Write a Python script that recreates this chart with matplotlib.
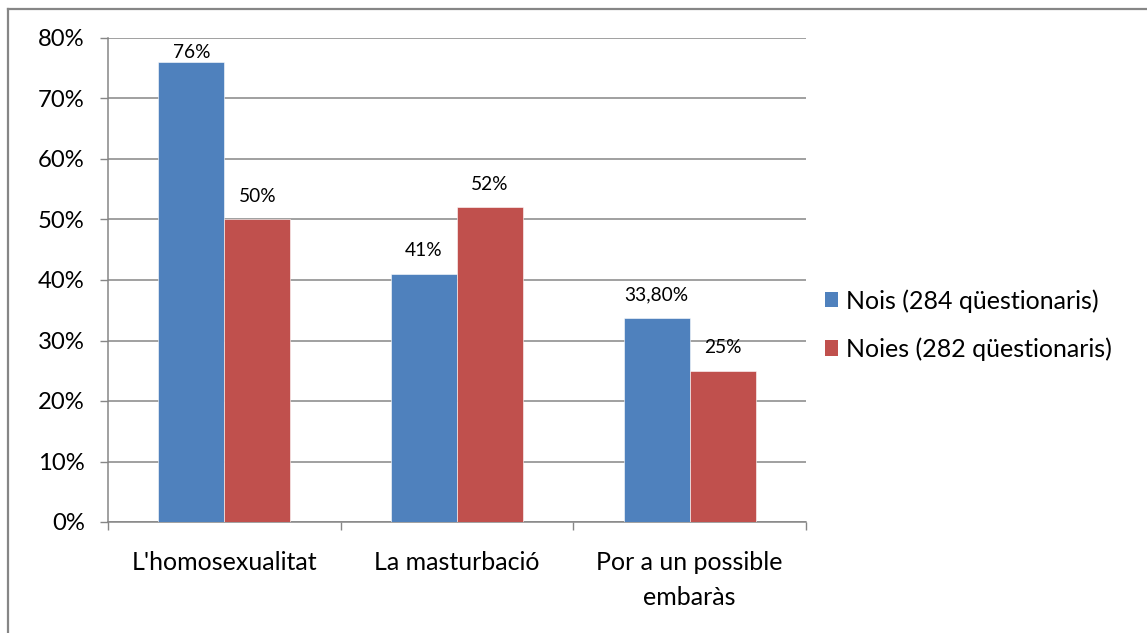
import matplotlib
matplotlib.use("Agg")
import matplotlib.pyplot as plt
import numpy as np
from matplotlib.lines import Line2D
from matplotlib.patches import Patch

categories = ["L'homosexualitat", "La masturbació", "Por a un possible\nembaràs"]
nois = [76, 41, 33.8]
noies = [50, 52, 25]
nois_labels = ["76%", "41%", "33,80%"]
noies_labels = ["50%", "52%", "25%"]
series_names = ["Nois (284 qüestionaris)", "Noies (282 qüestionaris)"]
yticks = [0, 10, 20, 30, 40, 50, 60, 70, 80]

plt.rcParams['font.family'] = ['Lato', 'DejaVu Sans']

W, H = 1147, 633
fig = plt.figure(figsize=(W/100, H/100), dpi=100)
ax = fig.add_axes([108/W, 1-522/H, (806-108)/W, (522-38)/H])

blue = "#4F81BD"
red = "#C0504D"
grid_c = "#868686"

x = np.arange(len(categories))
bw = 0.283
b1 = ax.bar(x - bw/2, nois, bw, color=blue, edgecolor="white", linewidth=0.4, zorder=3)
b2 = ax.bar(x + bw/2, noies, bw, color=red, edgecolor="white", linewidth=0.4, zorder=3)

ax.set_xlim(-0.5, len(categories) - 0.5)
ax.set_ylim(0, 80)
ax.set_yticks(yticks)
ax.set_yticklabels([f"{v}%" for v in yticks], fontsize=17.2, color="black")
ax.yaxis.grid(True, color=grid_c, linewidth=1.1, zorder=0)
ax.set_axisbelow(True)

ax.set_xticks(x)
ax.set_xticklabels(categories, fontsize=18, color="black", linespacing=1.6)
ax.tick_params(axis='x', length=0, pad=21)
ax.set_xticks(np.arange(len(categories) + 1) - 0.5, minor=True)
ax.tick_params(axis='x', which='minor', length=5.8, width=1.0, color=grid_c)
ax.tick_params(axis='y', length=5.8, width=1.0, color=grid_c, pad=11)

for s in ["top", "right"]:
    ax.spines[s].set_visible(False)
for s in ["left", "bottom"]:
    ax.spines[s].set_color(grid_c)
    ax.spines[s].set_linewidth(1.1)

px = 80 / 484.0  # data units per pixel
for rects, labels in ((b1, nois_labels), (b2, noies_labels)):
    for r, lab in zip(rects, labels):
        h = r.get_height()
        y = h + 23 * px
        if y > 80 - 12 * px:
            y = h + 10 * px
        ax.text(r.get_x() + r.get_width()/2, y, lab, ha="center", va="center",
                fontsize=13.8, color="black")

handles = [Patch(facecolor=blue), Patch(facecolor=red)]
fig.legend(handles, series_names, loc="center left",
           bbox_to_anchor=(802/W, 1-325/H), frameon=False, fontsize=18,
           handlelength=0.55, handleheight=0.55, handletextpad=0.3,
           labelspacing=0.98)

# outer chart border (top and left visible)
fig.add_artist(Line2D([8/W, 1.0], [1-9/H, 1-9/H], color=grid_c, linewidth=1.6,
                      transform=fig.transFigure))
fig.add_artist(Line2D([8/W, 8/W], [0, 1-9/H], color=grid_c, linewidth=1.6,
                      transform=fig.transFigure))

fig.savefig("out.png", dpi=100)
